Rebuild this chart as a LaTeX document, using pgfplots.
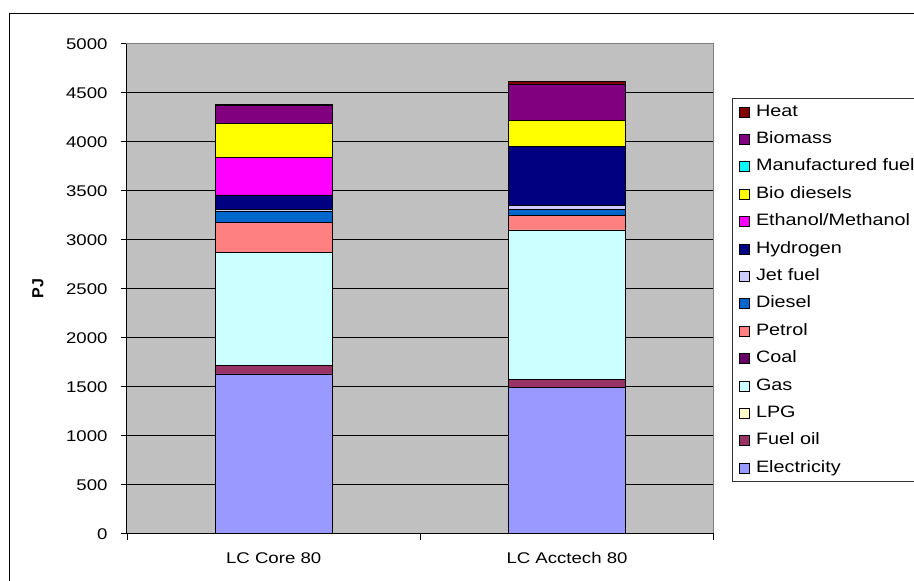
\documentclass[border=0pt]{standalone}
\usepackage{fontspec}
\setmainfont{Liberation Sans}[FakeStretch=1.2]
\newfontfamily\pjfont{Liberation Sans}
\usepackage{pgfplots}
\usepackage{pgfplotstable}
\pgfplotsset{compat=1.18}

\definecolor{bgGray}{HTML}{C0C0C0}
\definecolor{cElec}{HTML}{9999FF}
\definecolor{cFuelOil}{HTML}{993366}
\definecolor{cLPG}{HTML}{FFFFCC}
\definecolor{cGas}{HTML}{CCFFFF}
\definecolor{cCoal}{HTML}{660066}
\definecolor{cPetrol}{HTML}{FF8080}
\definecolor{cDiesel}{HTML}{0066CC}
\definecolor{cJet}{HTML}{CCCCFF}
\definecolor{cHydrogen}{HTML}{000080}
\definecolor{cEthanol}{HTML}{FF00FF}
\definecolor{cBioDiesel}{HTML}{FFFF00}
\definecolor{cManuf}{HTML}{00FFFF}
\definecolor{cBiomass}{HTML}{800080}
\definecolor{cHeat}{HTML}{800000}

% PJ by scenario (0 = LC Core 80, 1 = LC Acctech 80)
\pgfplotstableread{
x Electricity FuelOil LPG Gas Coal Petrol Diesel JetFuel Hydrogen Ethanol BioDiesel Manuf Biomass Heat
0 1630 85 0 1153 0 306 112 25 146 385 347 0 177 12
1 1490 86 0 1523 0 146 68 41 602 0 258 0 374 31
}\datatable

\begin{document}
\begin{tikzpicture}
\path[use as bounding box] (0,0) rectangle (914pt,581pt);
\draw[line width=1pt] (9.5pt,-10pt) -- (9.5pt,567pt) -- (930pt,567pt);
\begin{axis}[
    at={(127pt,47.3pt)}, anchor=south west,
    scale only axis, width=586.7pt, height=490pt,
    ybar stacked, bar width=0.4,
    xmin=-0.5, xmax=1.5, ymin=0, ymax=5000,
    ytick={0,500,...,5000},
    xtick={-0.5,0.5,1.5}, xticklabels={},
    extra x ticks={0,1},
    extra x tick labels={LC Core 80, LC Acctech 80},
    extra x tick style={major tick length=0pt, grid=none},
    xtick pos=bottom, ytick pos=left,
    ymajorgrids, grid style={black, line width=0.8pt},
    axis background/.style={fill=bgGray},
    axis line style={draw=black!50, line width=1pt},
    tick align=outside, major tick length=6pt,
    tick style={black, line width=0.8pt},
    /pgf/number format/assume math mode=true,
    /pgf/number format/1000 sep={},
    tick label style={font=\fontsize{15.5}{18}\selectfont},
    xticklabel style={yshift=-15pt},
    yticklabel style={xshift=-10pt},
    ylabel={\fontsize{16}{18}\selectfont\pjfont\bfseries PJ},
    ylabel style={at={(axis description cs:-0.152,0.5)}, anchor=center},
    every axis plot/.append style={draw=black, line width=0.8pt},
    legend image code/.code={\draw[#1, draw=black, line width=0.8pt] (0pt,-5pt) rectangle (10pt,5pt);},
    reverse legend,
    legend cell align=left,
    legend style={at={(1.0307,0.8898)}, anchor=north west, draw=black!80, line width=1pt, fill=white,
        font=\fontsize{16.5}{19}\selectfont, row sep=7.9pt, inner xsep=7pt, inner ysep=4pt,
        nodes={text height=12pt, text depth=3.5pt, inner ysep=2pt, inner xsep=6pt}},
    clip=false,
    after end axis/.code={
        \draw[black, line width=1pt] (rel axis cs:0,1) -- (rel axis cs:0,0) -- (rel axis cs:1,0);
    },
]
\addplot[fill=cElec] table[x=x, y=Electricity] {\datatable};
\addlegendentry{Electricity}
\addplot[fill=cFuelOil] table[x=x, y=FuelOil] {\datatable};
\addlegendentry{Fuel oil}
\addplot[fill=cLPG] table[x=x, y=LPG] {\datatable};
\addlegendentry{LPG}
\addplot[fill=cGas] table[x=x, y=Gas] {\datatable};
\addlegendentry{Gas}
\addplot[fill=cCoal] table[x=x, y=Coal] {\datatable};
\addlegendentry{Coal}
\addplot[fill=cPetrol] table[x=x, y=Petrol] {\datatable};
\addlegendentry{Petrol}
\addplot[fill=cDiesel] table[x=x, y=Diesel] {\datatable};
\addlegendentry{Diesel}
\addplot[fill=cJet] table[x=x, y=JetFuel] {\datatable};
\addlegendentry{Jet fuel}
\addplot[fill=cHydrogen] table[x=x, y=Hydrogen] {\datatable};
\addlegendentry{Hydrogen}
\addplot[fill=cEthanol] table[x=x, y=Ethanol] {\datatable};
\addlegendentry{Ethanol/Methanol}
\addplot[fill=cBioDiesel] table[x=x, y=BioDiesel] {\datatable};
\addlegendentry{Bio diesels}
\addplot[fill=cManuf] table[x=x, y=Manuf] {\datatable};
\addlegendentry{Manufactured fuel}
\addplot[fill=cBiomass] table[x=x, y=Biomass] {\datatable};
\addlegendentry{Biomass}
\addplot[fill=cHeat] table[x=x, y=Heat] {\datatable};
\addlegendentry{Heat}
\end{axis}
\end{tikzpicture}
\end{document}
